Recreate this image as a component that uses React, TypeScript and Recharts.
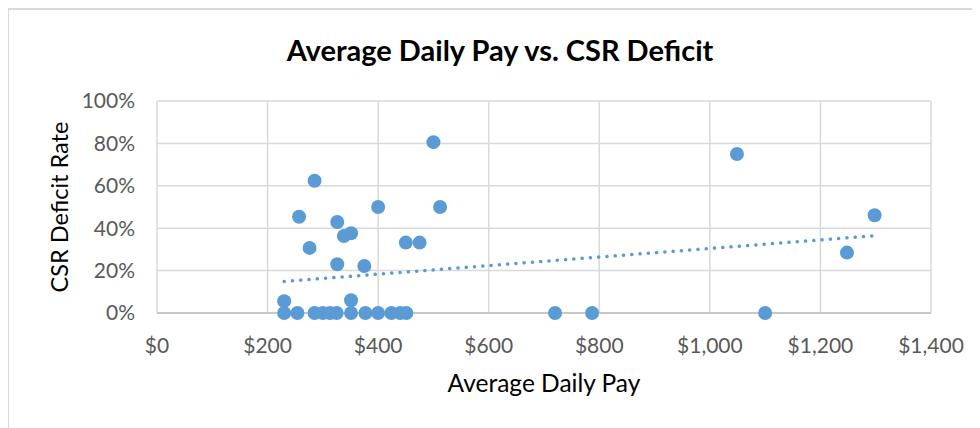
import React from 'react';
import { ScatterChart, Scatter, XAxis, YAxis, ZAxis, CartesianGrid, Label } from 'recharts';

// Average daily pay ($) and CSR deficit rate (%) per observation
const PAY = [
  500, 285, 257, 326, 400, 512, 338, 351, 276, 450, 475, 326, 375, 230, 351,
  1049, 1248, 1298,
  230, 254, 285, 300, 313, 325, 351, 377, 400, 424, 440, 451, 720, 787, 1100,
];
const RATE = [
  80.6, 62.4, 45.4, 42.9, 50, 50, 36.3, 37.6, 30.7, 33.2, 33.2, 23, 22.2, 5.6, 6,
  75, 28.5, 46.1,
  0, 0, 0, 0, 0, 0, 0, 0, 0, 0, 0, 0, 0, 0, 0,
];

// Linear trendline end points
const TREND_PAY = [230, 1300];
const TREND_RATE = [14.9, 36.5];

const X_TICKS = [0, 200, 400, 600, 800, 1000, 1200, 1400];
const Y_TICKS = [0, 20, 40, 60, 80, 100];

const TITLE = 'Average Daily Pay vs. CSR Deficit';
const X_TITLE = 'Average Daily Pay';
const Y_TITLE = 'CSR Deficit Rate';

const points = PAY.map((p, i) => ({ pay: p, rate: RATE[i] }));
const trend = TREND_PAY.map((p, i) => ({ pay: p, rate: TREND_RATE[i] }));

const BLUE = '#5B9BD5';
const FONT = 'Lato, "Open Sans", sans-serif';

const fmtMoney = (v: number) => '$' + v.toLocaleString('en-US');
const fmtPct = (v: number) => `${v}%`;

const Dot = (props: any) => {
  const { cx, cy } = props;
  if (cx == null || cy == null) return <g />;
  return <circle cx={cx} cy={cy} r={7} fill={BLUE} />;
};

const Nothing = () => <g />;

export default function App() {
  return (
    <div style={{ position: 'relative', marginLeft: -1, width: 973, height: 420, overflow: 'hidden', background: '#fff' }}>
      <div
        style={{
          position: 'absolute',
          left: 0,
          top: 0,
          width: 1200,
          height: 800,
          borderLeft: '2px solid #D9D9D9',
          borderTop: '2px solid #D9D9D9',
          boxSizing: 'border-box',
        }}
      />
      <div
        style={{
          position: 'absolute',
          left: 0,
          top: 23,
          width: 986,
          textAlign: 'center',
          fontFamily: FONT,
          fontWeight: 700,
          fontSize: 29,
          color: '#000',
          lineHeight: '37px',
        }}
      >
        {TITLE}
      </div>
      <div style={{ position: 'absolute', left: 0, top: 0 }}>
        <ScatterChart width={973} height={420} margin={{ top: 93, right: 49, bottom: 70, left: 0 }}>
          <CartesianGrid stroke="#D9D9D9" strokeWidth={1.5} />
          <XAxis
            type="number"
            dataKey="pay"
            domain={[0, 1400]}
            ticks={X_TICKS}
            tickFormatter={fmtMoney}
            height={45}
            axisLine={{ stroke: '#BFBFBF', strokeWidth: 1.5 }}
            tickLine={false}
            tickMargin={19}
            tick={{ fill: '#595959', fontSize: 21, fontFamily: FONT }}
            interval={0}
          >
            <Label
              content={(p: any) => {
                const vb = p.viewBox || {};
                return (
                  <text
                    x={vb.x + vb.width / 2}
                    y={vb.y + 79}
                    textAnchor="middle"
                    fontFamily={FONT}
                    fontSize={24.5}
                    fill="#000"
                  >
                    {X_TITLE}
                  </text>
                );
              }}
            />
          </XAxis>
          <YAxis
            type="number"
            dataKey="rate"
            domain={[0, 100]}
            ticks={Y_TICKS}
            tickFormatter={fmtPct}
            width={150}
            axisLine={false}
            tickLine={false}
            tickMargin={16}
            tick={{ fill: '#595959', fontSize: 21, fontFamily: FONT }}
            interval={0}
          >
            <Label
              content={(p: any) => {
                const vb = p.viewBox || {};
                const cx = vb.x + 52;
                const cy = vb.y + vb.height / 2;
                return (
                  <text
                    x={cx}
                    y={cy}
                    transform={`rotate(-90 ${cx} ${cy})`}
                    textAnchor="middle"
                    dominantBaseline="central"
                    fontFamily={FONT}
                    fontSize={23.5}
                    fill="#000"
                  >
                    {Y_TITLE}
                  </text>
                );
              }}
            />
          </YAxis>
          <ZAxis range={[150, 150]} />
          <Scatter data={points} fill={BLUE} shape={Dot} isAnimationActive={false} />
          <Scatter
            data={trend}
            fill={BLUE}
            shape={Nothing}
            line={{ stroke: BLUE, strokeWidth: 3.5, strokeDasharray: '0.1 8.2', strokeLinecap: 'round' }}
            isAnimationActive={false}
          />
        </ScatterChart>
      </div>
    </div>
  );
}
